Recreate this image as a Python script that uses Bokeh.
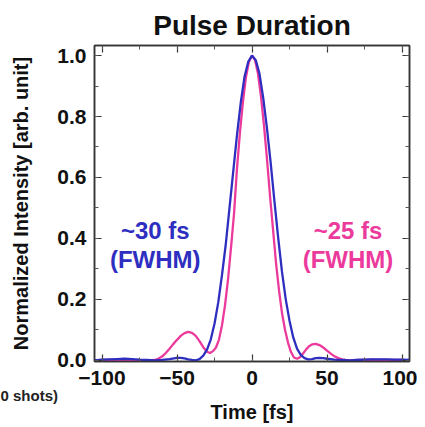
from bokeh.plotting import figure
from bokeh.models import Range1d, LinearAxis, FixedTicker, Label, Title
from bokeh.embed import file_html
from bokeh.resources import INLINE

# ---- data ----
blue_t = [-105, -100, -95, -90, -85, -80, -75, -70, -65, -60, -55, -50, -47.5, -45, -42.5, -40,
          -37.5, -35, -32.5, -30, -27.5, -25, -22.5, -20, -17.5, -15, -12.5, -10, -7.5, -5, -2.5,
          0, 2.5, 5, 7.5, 10, 12.5, 15, 17.5, 20, 22.5, 25, 27.5, 30, 32.5, 35, 37.5, 40, 42.5,
          45, 47.5, 50, 55, 60, 65, 70, 75, 80, 85, 90, 95, 100, 105]
blue_i = [0.0, 0.002, 0.003, 0.004, 0.005, 0.004, 0.002, 0.001, 0.0, 0.001, 0.004, 0.008, 0.008,
          0.006, 0.003, 0.001, 0.0, 0.004, 0.015, 0.035, 0.068, 0.12, 0.19, 0.28, 0.38, 0.50, 0.62,
          0.74, 0.845, 0.93, 0.98, 1.0, 0.985, 0.94, 0.86, 0.76, 0.645, 0.52, 0.40, 0.29, 0.20,
          0.13, 0.075, 0.038, 0.018, 0.007, 0.003, 0.004, 0.007, 0.008, 0.007, 0.005, 0.002,
          0.001, 0.0, 0.001, 0.002, 0.003, 0.003, 0.003, 0.002, 0.002, 0.001]

pink_t = [-105, -100, -90, -80, -70, -65, -62.5, -60, -57.5, -55, -52.5, -50, -47.5, -45, -42.5,
          -40, -37.5, -35, -32.5, -30, -28, -26, -24, -22, -20, -18, -16, -14, -12, -10, -8, -6,
          -4, -2, 0, 2, 4, 6, 8, 10, 12, 14, 16, 18, 20, 22, 24, 26, 28, 30, 32, 34, 36, 38, 40,
          42.5, 45, 47.5, 50, 52.5, 55, 57.5, 60, 62.5, 65, 70, 80, 90, 100, 105]
pink_i = [0.0, 0.001, 0.001, 0.0, 0.0, 0.001, 0.005, 0.012, 0.024, 0.038, 0.053, 0.067, 0.08,
          0.089, 0.093, 0.09, 0.08, 0.063, 0.043, 0.028, 0.024, 0.03, 0.042, 0.068, 0.115, 0.18,
          0.265, 0.37, 0.48, 0.63, 0.75, 0.85, 0.93, 0.98, 1.0, 0.985, 0.94, 0.865, 0.77, 0.66,
          0.54, 0.43, 0.32, 0.23, 0.155, 0.10, 0.058, 0.027, 0.009, 0.005, 0.01, 0.022, 0.035,
          0.046, 0.052, 0.054, 0.05, 0.042, 0.032, 0.022, 0.013, 0.007, 0.003, 0.001, 0.0, 0.001,
          0.002, 0.001, 0.001, 0.0]

x_ticks = [-100, -50, 0, 50, 100]
x_minor = [-100, -75, -50, -25, 0, 25, 50, 75, 100]
y_ticks = [0.0, 0.2, 0.4, 0.6, 0.8, 1.0]
y_minor = [0.0, 0.1, 0.2, 0.3, 0.4, 0.5, 0.6, 0.7, 0.8, 0.9, 1.0]
x_tick_labels = {-100: "\u2212100", -50: "\u221250", 0: "0", 50: "50", 100: "100"}
y_tick_labels = {0: "0.0", 0.2: "0.2", 0.4: "0.4", 0.6: "0.6", 0.8: "0.8", 1: "1.0"}

BLUE = "#2e2ec0"
PINK = "#ec3a9c"
FONT = "Liberation Sans"

p = figure(width=417, height=425, x_range=Range1d(-105, 105), y_range=Range1d(-0.004, 1.033),
           output_backend="svg", toolbar_location=None,
           min_border_left=94, min_border_right=8, min_border_top=45, min_border_bottom=64,
           y_axis_label="Normalized Intensity [arb. unit]")
p.title.text = "Pulse Duration"
p.title.align = "center"
p.title.text_font = FONT
p.title.text_font_size = "28px"
p.title.text_font_style = "bold"
p.title.text_color = "#111111"
p.title.standoff = 10

p.grid.visible = False
p.outline_line_color = "#333333"
p.outline_line_width = 1.5
p.background_fill_color = "white"
p.border_fill_color = "white"

p.line(pink_t, pink_i, line_color=PINK, line_width=2.3)
p.line(blue_t, blue_i, line_color=BLUE, line_width=2.3)

def style_axis(ax, ticks, minor, labels, show_labels):
    ax.ticker = FixedTicker(ticks=ticks, minor_ticks=minor)
    ax.major_tick_in = 7
    ax.major_tick_out = 0
    ax.minor_tick_in = 4
    ax.minor_tick_out = 0
    ax.axis_line_color = "#333333"
    ax.axis_line_width = 1.5
    ax.major_tick_line_color = "#333333"
    ax.minor_tick_line_color = "#555555"
    ax.major_tick_line_width = 1.2
    ax.minor_tick_line_width = 1
    if show_labels:
        ax.major_label_overrides = labels
        ax.major_label_text_font = FONT
        ax.major_label_text_font_size = "21px"
        ax.major_label_text_font_style = "bold"
        ax.major_label_text_color = "#111111"
        ax.axis_label_text_font = FONT
        ax.axis_label_text_font_size = "20px"
        ax.axis_label_text_font_style = "bold"
        ax.axis_label_text_color = "#111111"
    else:
        ax.major_label_text_font_size = "0px"
        ax.major_label_standoff = 0

style_axis(p.xaxis[0], x_ticks, x_minor, x_tick_labels, True)
style_axis(p.yaxis[0], y_ticks, y_minor, y_tick_labels, True)
p.xaxis[0].major_label_standoff = 9
p.yaxis[0].major_label_standoff = 8
p.yaxis[0].axis_label_standoff = 22

top_ax = LinearAxis()
style_axis(top_ax, x_ticks, x_minor, None, False)
p.add_layout(top_ax, "above")
right_ax = LinearAxis()
style_axis(right_ax, y_ticks, y_minor, None, False)
p.add_layout(right_ax, "right")

# fragment of a neighbouring caption, then the x axis title
p.add_layout(Title(text="0 shots)", align="left", offset=-94, standoff=-5, text_font=FONT,
                   text_font_size="15px", text_font_style="bold", text_color="#222222"),
             "below")
p.add_layout(Title(text="Time [fs]", align="center", standoff=-6, text_font=FONT,
                   text_font_size="20px", text_font_style="bold", text_color="#111111"),
             "below")

for txt, y in (("~30 fs", 0.426), ("(FWHM)", 0.33)):
    p.add_layout(Label(x=-64.5, y=y, text=txt, text_align="center", text_baseline="middle",
                       text_font=FONT, text_font_size="24px", text_font_style="bold",
                       text_color=BLUE))
for txt, y in (("~25 fs", 0.426), ("(FWHM)", 0.33)):
    p.add_layout(Label(x=64, y=y, text=txt, text_align="center", text_baseline="middle",
                       text_font=FONT, text_font_size="24px", text_font_style="bold",
                       text_color=PINK))

open("out.html", "w").write(file_html(p, INLINE))
